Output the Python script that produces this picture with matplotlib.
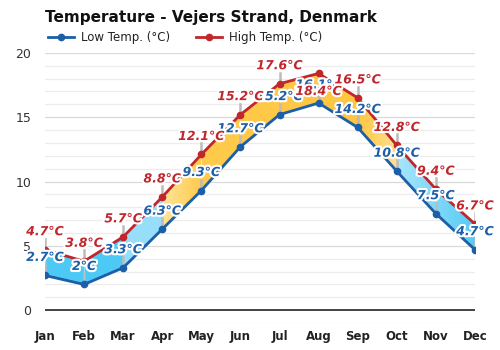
import numpy as np
import matplotlib
matplotlib.use("Agg")
import matplotlib.pyplot as plt
import matplotlib.patheffects as pe
from matplotlib.colors import to_rgb

months = ["Jan", "Feb", "Mar", "Apr", "May", "Jun", "Jul", "Aug", "Sep", "Oct", "Nov", "Dec"]
low = [2.7, 2.0, 3.3, 6.3, 9.3, 12.7, 15.2, 16.1, 14.2, 10.8, 7.5, 4.7]
high = [4.7, 3.8, 5.7, 8.8, 12.1, 15.2, 17.6, 18.4, 16.5, 12.8, 9.4, 6.7]
# fill colour stops along the months (x position, colour)
fill_stops = [(0.0, "#4ccaf5"), (2.0, "#4ccaf5"), (2.001, "#96defa"), (3.0, "#96defa"),
              (3.001, "#ffe49a"), (4.0, "#ffca4c"), (8.0, "#ffc640"), (9.0, "#ffe08f"),
              (9.001, "#a6e6fb"), (10.0, "#80d8f8"), (11.0, "#55ccf5")]

LOW_C = "#1c5ea8"
HIGH_C = "#c0262c"

fig = plt.figure(figsize=(5, 3.5), dpi=100)
ax = fig.add_axes([0.09, 0.077, 0.86, 0.772])
x = np.arange(len(months))

ax.set_xlim(-0.0, 11.0)
ax.set_ylim(-1, 20)

# grid
for v in range(-1, 21):
    if v == 0:
        continue
    ax.axhline(v, color="#d9d9d9" if v % 5 == 0 else "#ececec", lw=0.9, zorder=0)
ax.axhline(0, color="#222222", lw=1.2, zorder=1)

# gradient fill between low and high
poly = ax.fill_between(x, low, high, color="none", lw=0)
xs_img = np.linspace(0, 11, 1101)
sx = [s[0] for s in fill_stops]
cols = np.array([to_rgb(s[1]) for s in fill_stops])
img = np.stack([np.interp(xs_img, sx, cols[:, k]) for k in range(3)], axis=-1)[None, :, :]
im = ax.imshow(img, extent=[0, 11, -1, 20], aspect="auto", zorder=2, interpolation="nearest")
im.set_clip_path(poly.get_paths()[0], transform=ax.transData)
for i in range(len(months)):
    ax.plot([x[i], x[i]], [low[i], high[i]], color="#ffffff", lw=0.6, alpha=0.5, zorder=2.5)

ax.plot(x, low, color=LOW_C, lw=2, marker="o", ms=4.5, zorder=4, label="Low Temp. (°C)")
ax.plot(x, high, color=HIGH_C, lw=2, marker="o", ms=4.5, zorder=4, label="High Temp. (°C)")

stroke = [pe.withStroke(linewidth=3, foreground="white")]
px = 21 / (0.772 * 350)  # data units per pixel

def label(i, v, color, below=False):
    dy = -18 * px if below else 18 * px
    if not below:
        ax.plot([x[i], x[i]], [v, v + 11 * px], color="#bbbbbb", lw=1.8, zorder=3)
    ax.text(x[i], v + dy, f"{v:g}°C", color=color, fontsize=9, fontweight="bold",
            fontstyle="italic", ha="center", va="center", zorder=6, path_effects=stroke)

for i, v in enumerate(low):
    label(i, v, LOW_C)
for i, v in enumerate(high):
    label(i, v, HIGH_C, below=(v >= 18))

ax.set_xticks(x)
ax.set_xticklabels(months, fontsize=8.5, fontweight="bold", color="#222222")
ax.set_yticks([0, 5, 10, 15, 20])
ax.set_yticklabels(["0", "5", "10", "15", "20"], fontsize=9, color="#333333")
ax.tick_params(axis="y", length=0, pad=10)
ax.tick_params(axis="x", length=0, pad=5)
for s in ax.spines.values():
    s.set_visible(False)

fig.text(0.09, 0.95, "Temperature - Vejers Strand, Denmark", fontsize=11, fontweight="bold",
         ha="left", va="center", color="#111111")
leg = fig.legend(loc="center left", bbox_to_anchor=(0.075, 0.893), ncol=2, frameon=False,
                 fontsize=8.5, handlelength=2.2, columnspacing=2.2, handletextpad=0.6)
for t in leg.get_texts():
    t.set_color("#222222")

fig.savefig("out.png", dpi=100, facecolor="white")
